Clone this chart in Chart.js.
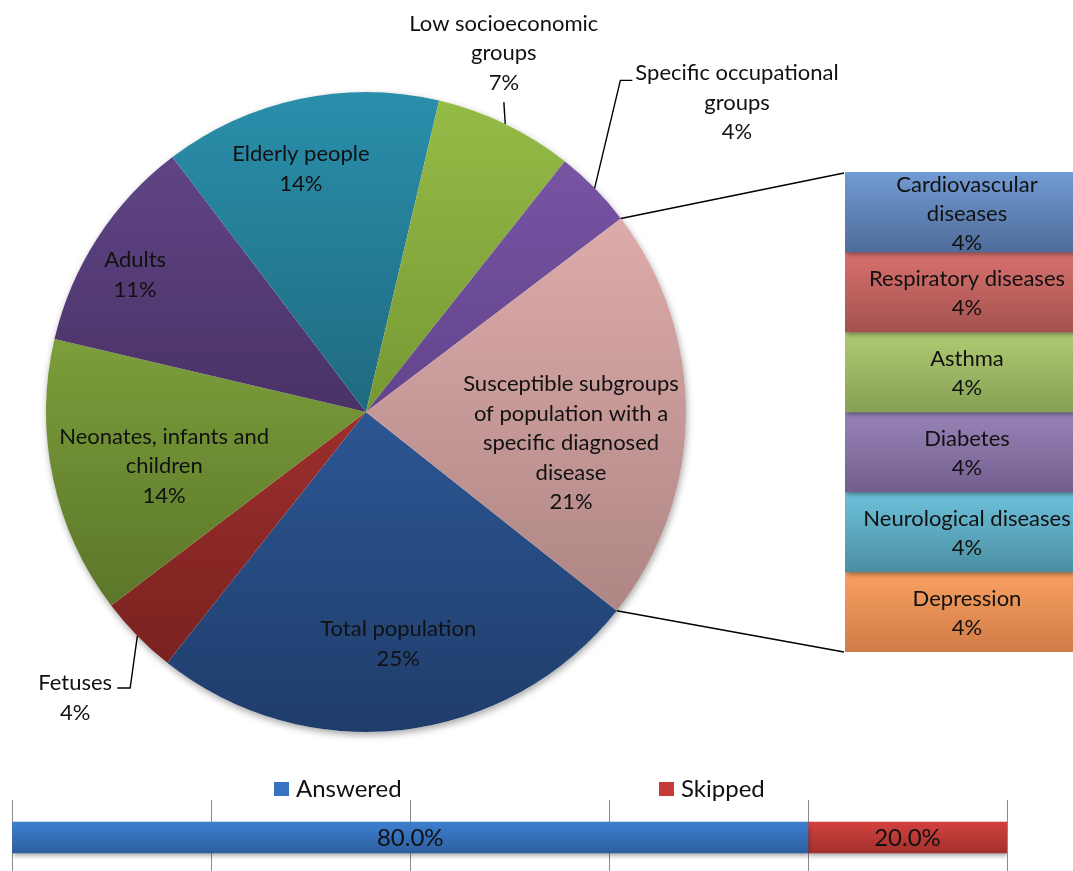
<!DOCTYPE html>
<html>
<head>
<meta charset="utf-8">
<script src="https://cdn.jsdelivr.net/npm/chart.js@4.4.0/dist/chart.umd.min.js"></script>
<style>
  html, body { margin: 0; padding: 0; background: #fff; width: 1073px; height: 871px; overflow: hidden; position: relative; }
  canvas { position: absolute; display: block; }
  #pie { left: 0; top: 0; }
  #stack { left: 845px; top: 172px; }
  #answers { left: 0; top: 760px; }
</style>
</head>
<body>
<canvas id="pie" width="1073" height="760"></canvas>
<canvas id="stack" width="244" height="490"></canvas>
<canvas id="answers" width="1073" height="115"></canvas>
<script>
// ---- Data -------------------------------------------------------------
// Target population groups, clockwise from the lower right of the pie
const groupNames = [
  ['Total population'],
  ['Fetuses'],
  ['Neonates, infants and', 'children'],
  ['Adults'],
  ['Elderly people'],
  ['Low socioeconomic', 'groups'],
  ['Specific occupational', 'groups'],
  ['Susceptible subgroups', 'of population with a', 'specific diagnosed', 'disease']
];
const groupShares = [25, 4, 14, 11, 14, 7, 4, 21];

// Diagnosed diseases broken out of the susceptible-subgroup slice
const diseaseNames = [
  ['Cardiovascular', 'diseases'],
  ['Respiratory diseases'],
  ['Asthma'],
  ['Diabetes'],
  ['Neurological diseases'],
  ['Depression']
];
const diseaseShares = [4, 4, 4, 4, 4, 4];

// Survey response rate
const responseNames = ['Answered', 'Skipped'];
const responseShares = [80.0, 20.0];

// ---- Styles -----------------------------------------------------------
const groupColors = [
  ['#2c5693', '#1f3d6b'],
  ['#9c2f2d', '#7a2220'],
  ['#7c9e3b', '#5b7629'],
  ['#604586', '#493265'],
  ['#2a8fab', '#1f6a80'],
  ['#95bb46', '#769834'],
  ['#7854a3', '#62448c'],
  ['#ddabaa', '#ae8684']
];
const diseaseColors = [
  ['#729bd3', '#4e6c9a'],
  ['#d8716e', '#a4524f'],
  ['#b0cc72', '#86a054'],
  ['#9983b8', '#725f8d'],
  ['#6dc2dc', '#4b8ea2'],
  ['#faa062', '#d07c47']
];
const responseColors = [
  ['#3e7fd0', '#2d5f9f'],
  ['#d3413e', '#a3302e']
];
const responseLegendColors = ['#3873c2', '#c63a38'];

// Label placement per slice: radius as a fraction of the pie radius and an
// angular shift (degrees) from the slice's mid angle. Outside labels get a leader.
const groupLabelPlacement = [
  { r: 0.732, shift: -1.3 },
  { r: 1.274, shift: -0.1, leader: 'right' },
  { r: 0.653, shift: -3.0 },
  { r: 0.839, shift: -2.3 },
  { r: 0.786, shift: -3.0 },
  { r: 1.202, shift: -4.8, leader: 'below' },
  { r: 1.509, shift: 4.6, leader: 'left' },
  { r: 0.648, shift: 8.1 }
];

const TEXT = '#111111';
const LABEL_FONT = '22px Lato';
const LINE_H = 29.5;

Chart.defaults.font.family = 'Lato';
Chart.defaults.color = TEXT;

// ---- Helpers ----------------------------------------------------------
function containsAngle(a, s, e) {
  const TAU = Math.PI * 2;
  const t = (((a - s) % TAU) + TAU) % TAU;
  return t <= e - s;
}

function drawLines(ctx, lines, cx, cy, lh) {
  const y0 = cy - (lines.length - 1) * lh / 2;
  lines.forEach((ln, k) => ctx.fillText(ln, cx, y0 + k * lh));
  return y0;
}

// vertical light-to-dark shading for each bar segment
const barShading = (colors) => ({
  id: 'barShading',
  beforeDatasetsDraw(chart) {
    const ctx = chart.ctx;
    chart.data.datasets.forEach((ds, di) => {
      chart.getDatasetMeta(di).data.forEach((el) => {
        const horizontal = chart.options.indexAxis === 'y';
        let a, b;
        if (horizontal) { a = el.y - el.height / 2; b = el.y + el.height / 2; }
        else { a = Math.min(el.y, el.base); b = Math.max(el.y, el.base); }
        const g = ctx.createLinearGradient(0, a, 0, b);
        g.addColorStop(0, colors[di][0]);
        g.addColorStop(1, colors[di][1]);
        el.options = Object.assign({}, el.options, { backgroundColor: g });
      });
    });
  }
});

const softShadow = {
  id: 'softShadow',
  beforeDatasetsDraw(chart) {
    const ctx = chart.ctx;
    ctx.save();
    ctx.shadowColor = 'rgba(0,0,0,0.38)';
    ctx.shadowBlur = 5;
    ctx.shadowOffsetX = 1;
    ctx.shadowOffsetY = 3;
  },
  afterDatasetsDraw(chart) { chart.ctx.restore(); }
};

// ---- Breakout bar (diseases) -----------------------------------------
const stackCanvas = document.getElementById('stack');
const diseaseTotal = diseaseShares.reduce((a, b) => a + b, 0);

const stackChart = new Chart(stackCanvas, {
  type: 'bar',
  data: {
    labels: [''],
    datasets: diseaseNames.map((name, i) => ({
      label: name.join(' '),
      data: [diseaseShares[i]],
      backgroundColor: diseaseColors[i][0],
      borderWidth: 0,
      barPercentage: 1,
      categoryPercentage: 1
    }))
  },
  options: {
    responsive: false,
    animation: false,
    layout: { padding: { top: 0, left: 0, right: 0, bottom: 10 } },
    scales: {
      x: { stacked: true, display: false },
      y: { stacked: true, display: false, reverse: true, min: 0, max: diseaseTotal }
    },
    plugins: { legend: { display: false }, tooltip: { enabled: false } }
  },
  plugins: [
    barShading(diseaseColors),
    softShadow,
    {
      id: 'diseaseLabels',
      afterDatasetsDraw(chart) {
        const ctx = chart.ctx;
        ctx.save();
        ctx.font = LABEL_FONT;
        ctx.fillStyle = TEXT;
        ctx.textAlign = 'center';
        ctx.textBaseline = 'middle';
        chart.data.datasets.forEach((ds, di) => {
          const el = chart.getDatasetMeta(di).data[0];
          const c = el.getCenterPoint();
          const lines = diseaseNames[di].concat([ds.data[0] + '%']);
          drawLines(ctx, lines, c.x, c.y + 1.5, 29);
        });
        ctx.restore();
      }
    }
  ]
});

// ---- Pie of target groups --------------------------------------------
const pieCanvas = document.getElementById('pie');

const pieChart = new Chart(pieCanvas, {
  type: 'pie',
  data: {
    labels: groupNames.map(n => n.join(' ')),
    datasets: [{
      data: groupShares,
      backgroundColor: groupColors.map(c => c[0]),
      borderWidth: 0
    }]
  },
  options: {
    responsive: false,
    animation: false,
    rotation: 128.4,
    layout: { padding: { left: 46, top: 92, right: 387, bottom: 28 } },
    plugins: { legend: { display: false }, tooltip: { enabled: false } }
  },
  plugins: [
    {
      id: 'pieShading',
      beforeDatasetsDraw(chart) {
        const ctx = chart.ctx;
        const arcs = chart.getDatasetMeta(0).data;
        const a0 = arcs[0];
        // shadow under the whole disc
        ctx.save();
        ctx.beginPath();
        ctx.arc(a0.x, a0.y, a0.outerRadius, 0, Math.PI * 2);
        ctx.fillStyle = '#ffffff';
        ctx.shadowColor = 'rgba(0,0,0,0.35)';
        ctx.shadowBlur = 7;
        ctx.shadowOffsetX = 1;
        ctx.shadowOffsetY = 3;
        ctx.fill();
        ctx.restore();
        arcs.forEach((arc, i) => {
          const { x, y, startAngle: s, endAngle: e, outerRadius: R } = arc;
          const ys = [y, y + R * Math.sin(s), y + R * Math.sin(e)];
          if (containsAngle(Math.PI / 2, s, e)) ys.push(y + R);
          if (containsAngle(-Math.PI / 2, s, e)) ys.push(y - R);
          const g = ctx.createLinearGradient(0, Math.min(...ys), 0, Math.max(...ys));
          g.addColorStop(0, groupColors[i][0]);
          g.addColorStop(1, groupColors[i][1]);
          arc.options = Object.assign({}, arc.options, { backgroundColor: g });
        });
      }
    },
    {
      id: 'groupLabels',
      afterDatasetsDraw(chart) {
        const ctx = chart.ctx;
        const arcs = chart.getDatasetMeta(0).data;
        ctx.save();
        ctx.font = LABEL_FONT;
        ctx.fillStyle = TEXT;
        ctx.strokeStyle = '#000';
        ctx.lineWidth = 1.4;
        ctx.textAlign = 'center';
        ctx.textBaseline = 'middle';
        arcs.forEach((arc, i) => {
          const { x, y, startAngle: s, endAngle: e, outerRadius: R } = arc;
          const mid = (s + e) / 2;
          const p = groupLabelPlacement[i];
          const a = mid + p.shift * Math.PI / 180;
          const cx = x + p.r * R * Math.cos(a);
          const cy = y + p.r * R * Math.sin(a);
          const lines = groupNames[i].concat([groupShares[i] + '%']);
          const y0 = drawLines(ctx, lines, cx, cy, LINE_H);
          if (p.leader) {
            const ex = x + R * Math.cos(mid);
            const ey = y + R * Math.sin(mid);
            const w0 = ctx.measureText(lines[0]).width;
            ctx.beginPath();
            ctx.moveTo(ex, ey);
            if (p.leader === 'below') {
              const yb = y0 + (lines.length - 1) * LINE_H + LINE_H / 2 + 5;
              ctx.lineTo(cx, yb);
            } else if (p.leader === 'left') {
              const tx = cx - w0 / 2 - 3, ty = y0 + 7;
              ctx.lineTo(tx - 12, ty);
              ctx.lineTo(tx, ty);
            } else {
              const tx = cx + w0 / 2 + 5, ty = y0 + 5;
              ctx.lineTo(tx + 13, ty);
              ctx.lineTo(tx, ty);
            }
            ctx.stroke();
          }
        });
        ctx.restore();
      }
    },
    {
      id: 'breakoutConnectors',
      afterDraw(chart) {
        const ctx = chart.ctx;
        const arc = chart.getDatasetMeta(0).data[groupShares.length - 1];
        const { x, y, startAngle: s, endAngle: e, outerRadius: R } = arc;
        const metas = stackChart.data.datasets.map((d, i) => stackChart.getDatasetMeta(i).data[0]);
        const first = metas[0], last = metas[metas.length - 1];
        const ox = stackCanvas.offsetLeft - pieCanvas.offsetLeft;
        const oy = stackCanvas.offsetTop - pieCanvas.offsetTop;
        const left = ox + first.x - first.width / 2;
        const top = oy + Math.min(first.y, first.base);
        const bottom = oy + Math.max(last.y, last.base);
        ctx.save();
        ctx.strokeStyle = '#000';
        ctx.lineWidth = 1.5;
        ctx.beginPath();
        ctx.moveTo(x + R * Math.cos(s), y + R * Math.sin(s));
        ctx.lineTo(left - 1, top + 1);
        ctx.moveTo(x + R * Math.cos(e), y + R * Math.sin(e));
        ctx.lineTo(left - 1, bottom);
        ctx.stroke();
        ctx.restore();
      }
    }
  ]
});

// ---- Response rate bar -----------------------------------------------
const answersCanvas = document.getElementById('answers');
const legendStyle = { left: 274, pitch: 385, y: 29, box: [15, 14], gap: 7, font: '24px Lato' };

new Chart(answersCanvas, {
  type: 'bar',
  data: {
    labels: [''],
    datasets: responseNames.map((name, i) => ({
      label: name,
      data: [responseShares[i]],
      backgroundColor: responseColors[i][0],
      borderWidth: 0,
      barThickness: 31
    }))
  },
  options: {
    indexAxis: 'y',
    responsive: false,
    animation: false,
    layout: { padding: { top: 40, left: 12, right: 66, bottom: 0 } },
    scales: {
      x: {
        stacked: true, min: 0, max: 100,
        ticks: { stepSize: 20, display: false },
        grid: { color: '#8a8a8a', lineWidth: 1, drawTicks: false },
        border: { display: false }
      },
      y: { stacked: true, display: false }
    },
    plugins: { legend: { display: false }, tooltip: { enabled: false } }
  },
  plugins: [
    barShading(responseColors),
    softShadow,
    {
      id: 'responseLabels',
      afterDatasetsDraw(chart) {
        const ctx = chart.ctx;
        ctx.save();
        ctx.font = '24px Lato';
        ctx.fillStyle = TEXT;
        ctx.textAlign = 'center';
        ctx.textBaseline = 'middle';
        chart.data.datasets.forEach((ds, di) => {
          const c = chart.getDatasetMeta(di).data[0].getCenterPoint();
          ctx.fillText(ds.data[0].toFixed(1) + '%', c.x, c.y + 1);
        });
        ctx.restore();
      }
    },
    {
      id: 'responseLegend',
      afterDraw(chart) {
        const ctx = chart.ctx;
        const L = legendStyle;
        ctx.save();
        ctx.font = L.font;
        ctx.textBaseline = 'middle';
        ctx.textAlign = 'left';
        chart.data.datasets.forEach((ds, i) => {
          const bx = L.left + i * L.pitch;
          ctx.fillStyle = responseLegendColors[i];
          ctx.fillRect(bx, L.y - L.box[1] / 2, L.box[0], L.box[1]);
          ctx.fillStyle = TEXT;
          ctx.fillText(ds.label, bx + L.box[0] + L.gap, L.y);
        });
        ctx.restore();
      }
    }
  ]
});
</script>
</body>
</html>
